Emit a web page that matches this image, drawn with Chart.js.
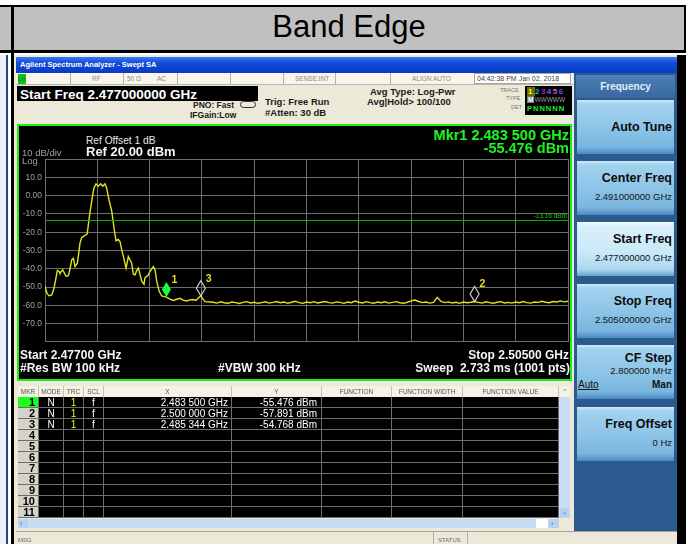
<!DOCTYPE html>
<html>
<head>
<meta charset="utf-8">
<script src="https://cdn.jsdelivr.net/npm/chart.js@4.4.1/dist/chart.umd.min.js"></script>
<style>
  body { margin: 0; width: 686px; height: 544px; overflow: hidden; background: #fff; position: relative;
         font-family: "Liberation Sans", Arial, sans-serif; }
  .a { position: absolute; white-space: nowrap; }
  .st { font-size: 6.5px; color: #8c8c88; line-height: 12px; top: 73px; }
  .sep { position: absolute; top: 73px; width: 1px; height: 12px; background: #b4b2a8; }
  .inf { font-weight: bold; color: #1a1a1a; line-height: 1; }
  .pl { line-height: 1; }
  .btn { position: absolute; left: 577px; width: 97px; height: 54px;
         background: linear-gradient(#cfeaf8 0, #a2d2ee 7%, #90c6e8 45%, #7ab6df 86%, #4c88c2 100%); }
  .btn.sel { background: linear-gradient(#f2fafe 0, #d8effb 8%, #cbe9f8 55%, #acd6ef 88%, #6a9fcc 100%); }
  .bt { position: absolute; right: 2px; font-weight: bold; font-size: 12.5px; line-height: 1; color: #0c0c0c; }
  .bv { position: absolute; right: 2px; font-size: 9.5px; line-height: 1; color: #141414; }
  .th { position: absolute; top: 386px; height: 11px; line-height: 11px; font-size: 6.5px; color: #555;
        text-align: center; background: #f4f2e6; border-right: 1px solid #c4c1b4; box-sizing: border-box; }
  .td { position: absolute; height: 11px; line-height: 11px; font-size: 10px; color: #fff; background: #000;
        border-right: 1px solid #6e6e6e; border-bottom: 1px solid #6e6e6e; box-sizing: border-box; }
</style>
</head>
<body>

<!-- outer report table -->
<div class="a" style="left:0;top:5px;width:686px;height:2px;background:#000"></div>
<div class="a" style="left:0;top:7px;width:11px;height:43px;background:#c0c0c0"></div>
<div class="a" style="left:14px;top:7px;width:670px;height:43px;background:#c0c0c0;text-align:center;font-size:31px;line-height:40px;color:#000">Band Edge</div>
<div class="a" style="left:684px;top:5px;width:2px;height:48px;background:#000"></div>
<div class="a" style="left:0;top:50px;width:686px;height:3px;background:#000"></div>
<div class="a" style="left:11px;top:5px;width:3px;height:539px;background:#000"></div>
<div class="a" style="left:0;top:55px;width:11px;height:489px;background:linear-gradient(90deg,#eef2f6 0 6px,#24468a 6px 8px,#fff 8px)"></div>

<!-- analyzer window -->
<div class="a" style="left:14px;top:55px;width:670px;height:489px;background:#ece9d8"></div>
<div class="a" style="left:677px;top:55px;width:9px;height:489px;background:#000"></div>
<div class="a" style="left:16px;top:57px;width:661px;height:16px;background:linear-gradient(#3b7af0,#0f4ad8 40%,#0a3cc0);color:#fff;font-size:7.5px;font-weight:bold;line-height:16px;padding-left:4px;box-sizing:border-box">Agilent Spectrum Analyzer - Swept SA</div>

<!-- status row -->
<div class="a" style="left:16px;top:73px;width:557px;height:12px;background:#f7f5ec;border-bottom:1px solid #b8b6aa;box-sizing:border-box"></div>
<div class="a" style="left:18px;top:74px;width:8px;height:10px;background:#12c412;font-size:5px;line-height:10px;color:#063">LXI</div>
<div class="sep" style="left:70px"></div><div class="sep" style="left:123px"></div><div class="sep" style="left:177px"></div>
<div class="sep" style="left:230px"></div><div class="sep" style="left:283px"></div><div class="sep" style="left:335px"></div>
<div class="sep" style="left:390px"></div>
<div class="a st" style="left:92px">RF</div>
<div class="a st" style="left:127px">50 Ω</div>
<div class="a st" style="left:157px">AC</div>
<div class="a st" style="left:295px">SENSE:INT</div>
<div class="a st" style="left:412px">ALIGN AUTO</div>
<div class="a" style="left:474px;top:73px;width:97px;height:11px;background:#fff;border:1px solid #a8a8a0;box-sizing:border-box;font-size:7px;line-height:10px;color:#444;padding-left:2px">04:42:38 PM Jan 02, 2018</div>

<!-- info area -->
<div class="a" style="left:17px;top:86px;width:241px;height:15px;background:#000"></div>
<div class="a" style="left:20px;top:87.5px;font-size:13.5px;font-weight:bold;color:#fff;line-height:1">Start Freq 2.477000000 GHz</div>
<div class="a inf" style="left:193px;top:100.6px;font-size:8.5px">PNO: Fast</div>
<div class="a inf" style="left:190px;top:110.6px;font-size:8.5px">IFGain:Low</div>
<div class="a" style="left:240px;top:101px;width:14px;height:5px;border:1.5px solid #333;border-radius:4px"></div>
<div class="a inf" style="left:265px;top:96.8px;font-size:9.5px">Trig: Free Run</div>
<div class="a inf" style="left:265px;top:107.8px;font-size:9.5px">#Atten: 30 dB</div>
<div class="a inf" style="left:370px;top:86.8px;font-size:9.5px">Avg Type: Log-Pwr</div>
<div class="a inf" style="left:367px;top:96.8px;font-size:9.5px">Avg|Hold&gt; 100/100</div>
<div class="a" style="left:500px;top:88px;font-size:5.5px;color:#777;line-height:1">TRACE</div>
<div class="a" style="left:506px;top:96px;font-size:5.5px;color:#777;line-height:1">TYPE</div>
<div class="a" style="left:511px;top:105px;font-size:5.5px;color:#777;line-height:1">DET</div>
<div class="a" style="left:525px;top:86px;width:47px;height:29px;background:#000"></div>
<div class="a" style="left:527px;top:87px;font-size:8px;font-weight:bold;line-height:9px;letter-spacing:1.5px">
  <span style="background:#6a6a00;color:#ffff20;padding:0 1px">1</span><span style="color:#00c0c0">2</span><span style="color:#c010c0">3</span><span style="color:#9050ff">4</span><span style="color:#c060c0">5</span><span style="color:#5050ff">6</span></div>
<div class="a" style="left:527px;top:96px;font-size:6.5px;line-height:8px;color:#9a9a9a"><span style="background:#7a7a7a;color:#fff;font-weight:bold;padding:0 1px">M</span>WWWWW</div>
<div class="a" style="left:527px;top:104px;font-size:7.5px;font-weight:bold;line-height:9px;color:#22e822;letter-spacing:1px">PNNNNN</div>

<!-- plot panel -->
<div class="a" style="left:17px;top:124px;width:555px;height:257px;background:#000;border:2px solid #16f016;box-sizing:border-box"></div>
<canvas id="spec" width="551" height="200" style="position:absolute;left:19px;top:150px"></canvas>
<div class="a pl" style="left:86px;top:135.5px;font-size:10.2px;color:#e8e8e8">Ref Offset 1 dB</div>
<div class="a pl" style="left:22px;top:148px;font-size:9.5px;color:#a0a0a0">10 dB/div</div>
<div class="a pl" style="left:86px;top:145px;font-size:13px;font-weight:bold;color:#f4f4f4">Ref 20.00 dBm</div>
<div class="a pl" style="left:22px;top:156px;font-size:9.5px;color:#a0a0a0">Log</div>
<div class="a pl" style="right:117px;top:128.2px;font-size:14.5px;font-weight:bold;color:#22f022">Mkr1 2.483 500 GHz</div>
<div class="a pl" style="right:117px;top:140.5px;font-size:14.5px;font-weight:bold;color:#22f022">-55.476 dBm</div>
<div class="a pl" style="left:20px;top:348.5px;font-size:12px;font-weight:bold;color:#f4f4f4">Start 2.47700 GHz</div>
<div class="a pl" style="right:117px;top:348.5px;font-size:12px;font-weight:bold;color:#f4f4f4">Stop 2.50500 GHz</div>
<div class="a pl" style="left:20px;top:362px;font-size:12px;font-weight:bold;color:#f4f4f4">#Res BW 100 kHz</div>
<div class="a pl" style="left:218px;top:362px;font-size:12px;font-weight:bold;color:#f4f4f4">#VBW 300 kHz</div>
<div class="a pl" style="right:116px;top:362px;font-size:12px;font-weight:bold;color:#f4f4f4">Sweep&nbsp; 2.733 ms (1001 pts)</div>

<!-- marker table -->
<div id="mkr"></div>
<div class="a" style="left:559px;top:386px;width:11px;height:11px;background:#f4f2e6;font-size:7px;line-height:11px;text-align:center;color:#4a78b8">&#8963;</div>
<div class="a" style="left:559px;top:397px;width:11px;height:121px;background:#c8ddf4"></div>
<div class="a" style="left:560px;top:508px;width:9px;height:9px;background:#b4d0f0;font-size:6px;line-height:9px;text-align:center;color:#3a66a8">&#8964;</div>
<div class="a" style="left:18px;top:519px;width:541px;height:9px;background:linear-gradient(90deg,#b8d2f0 0 10px,#c4dbf4 10px 518px,#fff 518px 530px,#b8d2f0 530px)"></div>
<div class="a" style="left:20px;top:519px;font-size:7px;line-height:9px;color:#3a66a8">&#8249;</div>
<div class="a" style="left:551px;top:519px;font-size:7px;line-height:9px;color:#3a66a8">&#8250;</div>

<!-- bottom bar -->
<div class="a" style="left:16px;top:531px;width:661px;height:13px;background:#ece9d8;border-top:1px solid #a4a298;box-sizing:border-box"></div>
<div class="a" style="left:18px;top:537px;font-size:6px;color:#666;line-height:1">MSG</div>
<div class="a" style="left:433px;top:532px;width:1px;height:12px;background:#b0ae a4;background:#b0aea4"></div>
<div class="a" style="left:438px;top:537px;font-size:6px;color:#666;line-height:1">STATUS</div>
<div class="a" style="left:467px;top:532px;width:1px;height:12px;background:#b0aea4"></div>

<!-- softkey panel -->
<div class="a" style="left:574px;top:73px;width:103px;height:458px;background:#2b5b8e"></div>
<div class="a" style="left:576px;top:75px;width:99px;height:23px;background:linear-gradient(#4f80b4,#3667a0);color:#e2eefa;font-size:10px;font-weight:bold;text-align:center;line-height:23px">Frequency</div>
<div class="btn" style="top:100px"><div class="bt" style="top:20.5px">Auto Tune</div></div>
<div class="btn" style="top:161px"><div class="bt" style="top:11.4px">Center Freq</div><div class="bv" style="top:30.8px">2.491000000 GHz</div></div>
<div class="btn sel" style="top:222px"><div class="bt" style="top:11.4px">Start Freq</div><div class="bv" style="top:30.8px">2.477000000 GHz</div></div>
<div class="btn" style="top:284px"><div class="bt" style="top:11.4px">Stop Freq</div><div class="bv" style="top:30.8px">2.505000000 GHz</div></div>
<div class="btn" style="top:345px"><div class="bt" style="top:7.4px">CF Step</div><div class="bv" style="top:20.5px">2.800000 MHz</div>
  <div class="a" style="left:1px;top:34.5px;font-size:10px;line-height:1;text-decoration:underline;color:#111">Auto</div>
  <div class="a" style="right:2px;top:34.5px;font-size:10px;font-weight:bold;line-height:1;color:#111">Man</div></div>
<div class="btn" style="top:407px"><div class="bt" style="top:11.4px">Freq Offset</div><div class="bv" style="top:30.8px">0 Hz</div></div>

<script>
// trace 1 (GHz, dBm)
const freqGHz = [
  2.47700, 2.47711, 2.47721, 2.47735, 2.47746, 2.47754, 2.47766, 2.47775, 2.47780, 2.47795,
  2.47804, 2.47812, 2.47825, 2.47834, 2.47843, 2.47852, 2.47861, 2.47873, 2.47880, 2.47887,
  2.47896, 2.47914, 2.47926, 2.47932, 2.47937, 2.47950, 2.47962, 2.47973, 2.47985, 2.47998,
  2.48009, 2.48021, 2.48030, 2.48044, 2.48057, 2.48069, 2.48080, 2.48092, 2.48102, 2.48111,
  2.48120, 2.48134, 2.48146, 2.48164, 2.48173, 2.48182, 2.48191, 2.48200, 2.48218, 2.48230,
  2.48235, 2.48253, 2.48262, 2.48280, 2.48289, 2.48298, 2.48312, 2.48325, 2.48350, 2.48369,
  2.48387, 2.48401, 2.48423, 2.48439, 2.48459, 2.48476, 2.48494, 2.48508, 2.48521, 2.48534,
  2.48545, 2.48557,
  2.4860, 2.4862, 2.4864, 2.4866, 2.4868, 2.4870, 2.4872, 2.4874, 2.4876, 2.4878,
  2.4880, 2.4882, 2.4884, 2.4886, 2.4888, 2.4890, 2.4892, 2.4894, 2.4896, 2.4898,
  2.4900, 2.4902, 2.4904, 2.4906, 2.4908, 2.4910, 2.4912, 2.4914, 2.4916, 2.4918,
  2.4920, 2.4922, 2.4924, 2.4926, 2.4928, 2.4930, 2.4932, 2.4934, 2.4936, 2.4938,
  2.4940, 2.4942, 2.4944, 2.4946, 2.4948, 2.4950, 2.4952, 2.4954, 2.4956, 2.4958,
  2.4960, 2.4962, 2.4964, 2.4966, 2.4968, 2.4970, 2.4972, 2.4974, 2.4976, 2.4978,
  2.4980, 2.4982, 2.4984, 2.4986, 2.4988, 2.4990, 2.4992, 2.4994, 2.4996, 2.4998,
  2.5000, 2.5002, 2.5004, 2.5006, 2.5008, 2.5010, 2.5012, 2.5014, 2.5016, 2.5018,
  2.5020, 2.5022, 2.5024, 2.5026, 2.5028, 2.5030, 2.5032, 2.5034, 2.5036, 2.5038,
  2.5040, 2.5042, 2.5044, 2.5046, 2.5048, 2.5050
];
const levelDbm = [
  -49.5, -53.5, -54.8, -54.5, -51.5, -47.7, -40.9, -41.5, -42.4, -40.6,
  -42.5, -44.1, -43.8, -40.0, -35.2, -34.3, -38.8, -37.0, -32.0, -26.2,
  -23.0, -21.8, -20.9, -16.0, -11.9,  -3.0,   4.2,   6.4,   5.1,   6.4,
    5.1,   6.4,   4.2,  -3.0,  -8.3, -17.3, -24.8, -24.0, -25.3, -29.8,
  -33.4, -39.7, -33.4, -37.0, -43.0, -43.3, -41.0, -39.7, -46.8, -48.5,
  -45.0, -43.5, -41.5, -38.8, -40.5, -46.8, -52.5, -54.9, -55.5, -56.6,
  -57.3, -56.8, -56.2, -57.2, -57.6, -57.0, -56.8, -57.3, -56.0, -54.8,
  -56.5, -58.0,
  -58.3, -58.8, -58.1, -58.6, -58.9, -58.2, -58.5, -59.0, -58.4, -58.0,
  -58.7, -58.3, -58.9, -58.5, -58.1, -58.8, -58.4, -57.9, -58.6, -58.2,
  -58.9, -58.3, -57.8, -58.5, -58.9, -58.2, -58.6, -58.0, -58.7, -58.3,
  -57.9, -58.5, -58.8, -58.1, -58.4, -58.9, -58.2, -58.6, -57.7, -58.3,
  -58.7, -58.0, -58.5, -58.9, -58.2, -58.6, -58.1, -58.8, -58.4, -58.0,
  -58.6, -58.9, -58.3, -57.6, -57.1, -57.9, -58.5, -58.2, -58.8, -58.4,
  -55.6, -57.9, -58.5, -58.1, -58.7, -58.3, -58.9, -58.2, -58.6, -58.3,
  -57.9, -58.4, -58.8, -58.1, -58.5, -58.9, -58.3, -58.0, -58.7, -58.4,
  -58.8, -58.2, -58.6, -57.9, -58.5, -58.8, -58.2, -58.4, -57.8, -58.3,
  -58.6, -57.9, -58.2, -57.6, -58.1, -57.8
];
const gridFreqs  = [2.4770, 2.4798, 2.4826, 2.4854, 2.4882, 2.4910, 2.4938, 2.4966, 2.4994, 2.5022, 2.5050];
const levelTicks = [20, 10, 0, -10, -20, -30, -40, -50, -60, -70, -80];
const markerFreq  = [2.483500, 2.500000, 2.485344];
const markerLevel = [-55.476, -57.891, -54.768];
const displayLine = -13.16;

// ───────────────────────────────────────────────────────────────────────────

const overlay = {
  id: 'overlay',
  afterDatasetsDraw(chart) {
    const { ctx, chartArea: a, scales: { x, y } } = chart;
    ctx.save();
    const dy = Math.round(y.getPixelForValue(displayLine)) + 0.5;
    ctx.strokeStyle = '#00b400';
    ctx.lineWidth = 1;
    ctx.beginPath(); ctx.moveTo(a.left, dy); ctx.lineTo(a.right, dy); ctx.stroke();
    ctx.fillStyle = '#22c822';
    ctx.font = '6.5px "Liberation Sans"';
    ctx.textAlign = 'right';
    ctx.textBaseline = 'bottom';
    ctx.fillText(displayLine.toFixed(2) + ' dBm', a.right - 1, dy - 1);

    markerFreq.forEach((f, i) => {
      const px = x.getPixelForValue(f), py = y.getPixelForValue(markerLevel[i]);
      ctx.beginPath();
      ctx.moveTo(px, py); ctx.lineTo(px + 4.5, py - 7.5); ctx.lineTo(px, py - 15); ctx.lineTo(px - 4.5, py - 7.5);
      ctx.closePath();
      if (i === 0) { ctx.fillStyle = '#18ff3c'; ctx.fill(); }
      else { ctx.strokeStyle = '#cfcfcf'; ctx.lineWidth = 1.2; ctx.stroke(); }
      ctx.fillStyle = '#e6dc22';
      ctx.font = 'bold 10.5px "Liberation Sans"';
      ctx.textAlign = 'left';
      ctx.textBaseline = 'alphabetic';
      ctx.fillText(String(i + 1), px + 5, py - 14);
    });
    ctx.restore();
  }
};

new Chart(document.getElementById('spec').getContext('2d'), {
  type: 'line',
  data: {
    datasets: [{
      data: freqGHz.map((f, i) => ({ x: f, y: levelDbm[i] })),
      borderColor: '#e4e41e',
      borderWidth: 1.4,
      pointRadius: 0,
      tension: 0,
    }]
  },
  options: {
    responsive: false,
    animation: false,
    events: [],
    layout: { padding: { top: 9, right: 2, bottom: 5, left: 0 }, autoPadding: false },
    plugins: { legend: { display: false }, tooltip: { enabled: false } },
    scales: {
      x: {
        type: 'linear', min: 2.477, max: 2.505,
        afterBuildTicks: s => { s.ticks = gridFreqs.map(v => ({ value: v })); },
        afterFit: s => { s.height = 0; },
        ticks: { display: false },
        grid: { color: '#6e6e6e', drawTicks: false },
        border: { color: '#6e6e6e' },
      },
      y: {
        min: -80, max: 20,
        afterBuildTicks: s => { s.ticks = levelTicks.map(v => ({ value: v })); },
        afterFit: s => { s.width = 26; },
        ticks: {
          padding: 3,
          color: '#a0a0a0',
          font: { family: 'Liberation Sans', size: 8.5 },
          callback: v => (v === 20 || v === -80) ? '' : (v === 0 ? '0.00' : v.toFixed(1)),
        },
        grid: { color: '#6e6e6e', drawTicks: false },
        border: { color: '#6e6e6e' },
      }
    }
  },
  plugins: [overlay]
});

// marker table
const colX  = [18, 39, 64, 84, 104, 232, 322, 392, 463, 559];
const heads = ['MKR', 'MODE', 'TRC', 'SCL', 'X', 'Y', 'FUNCTION', 'FUNCTION WIDTH', 'FUNCTION VALUE'];
const box = document.getElementById('mkr');

function cell(cls, left, top, w, html, css) {
  const d = document.createElement('div');
  d.className = cls;
  d.style.left = left + 'px';
  d.style.top = top + 'px';
  d.style.width = w + 'px';
  if (css) d.style.cssText += css;
  d.innerHTML = html;
  box.appendChild(d);
}

heads.forEach((h, j) => cell('th', colX[j], 386, colX[j + 1] - colX[j], h));

for (let r = 0; r < 11; r++) {
  const top = 397 + r * 11;
  const m = r < markerFreq.length;
  for (let j = 0; j < heads.length; j++) {
    const w = colX[j + 1] - colX[j];
    let txt = '', css = '';
    if (j === 0) {
      txt = String(r + 1);
      css = 'background:' + (r === 0 ? '#1cff1c' : '#d6d3ca') + ';color:#000;font-weight:bold;font-size:11px;text-align:right;padding-right:3px;';
    } else if (m && j === 1) { txt = 'N'; css = 'text-align:center;'; }
    else if (m && j === 2) { txt = '1'; css = 'text-align:center;color:#f0f020;'; }
    else if (m && j === 3) { txt = 'f'; css = 'text-align:center;'; }
    else if (m && j === 4) {
      const s = markerFreq[r].toFixed(6);
      txt = s.slice(0, 5) + ' ' + s.slice(5) + ' GHz';
      css = 'text-align:right;padding-right:3px;';
    } else if (m && j === 5) {
      txt = markerLevel[r].toFixed(3) + ' dBm';
      css = 'text-align:right;padding-right:4px;';
    }
    cell('td', colX[j], top, w, txt, css);
  }
}
</script>
</body>
</html>
